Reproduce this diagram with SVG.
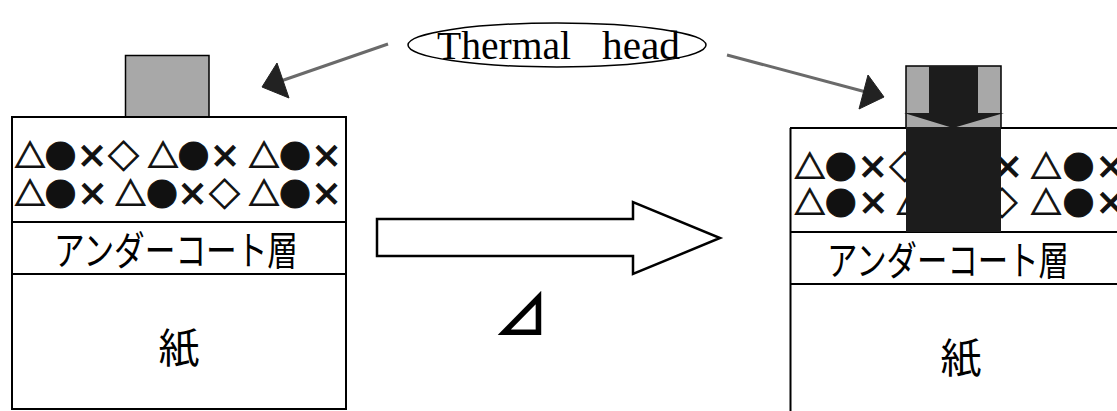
<svg xmlns="http://www.w3.org/2000/svg" width="1117" height="411" viewBox="0 0 1117 411">
<style>
.frame{fill:#fff;stroke:#000;stroke-width:2}
.line{stroke:#000;stroke-width:2;fill:none}
.sym{font-family:"Noto Sans CJK JP","DejaVu Sans",sans-serif;font-size:31px;font-weight:700;fill:#111;stroke:#111;stroke-width:1.1;text-anchor:middle;dominant-baseline:central}
.jp{font-family:"Noto Sans CJK JP",sans-serif;fill:#000;text-anchor:middle;dominant-baseline:central}
.head{fill:#a8a8a8;stroke:#000;stroke-width:1.5}
.ink{fill:#1c1c1c}
.lead{stroke:#6a6a6a;stroke-width:3;fill:none}
.tip{fill:#222;stroke:#222;stroke-width:1}
.serif{font-family:"Liberation Serif",serif;font-size:39px;fill:#000}
</style>
<rect width="1117" height="411" fill="#fff"/>

<g id="label-thermal-head">
<ellipse cx="557" cy="45" rx="149" ry="22" fill="#fff" stroke="#000" stroke-width="1.5"/>
<text class="serif" y="59"><tspan x="437" textLength="134" lengthAdjust="spacingAndGlyphs">Thermal</tspan><tspan x="602" textLength="78" lengthAdjust="spacingAndGlyphs">head</tspan></text>
</g>

<g id="connectors">
<line class="lead" x1="388" y1="44" x2="278" y2="82"/>
<polygon class="tip" points="262,87 277,63 289,98"/>
<line class="lead" x1="727" y1="55" x2="866" y2="92"/>
<polygon class="tip" points="884,97 868,75 859,109"/>
<polygon points="377,219 633,219 633,202 720,238 633,274 633,256 377,256" fill="#fff" stroke="#000" stroke-width="2.5" stroke-linejoin="miter"/>
</g>

<g id="mark">
<text x="521" y="311" class="jp" font-size="55" font-weight="700">⊿</text>
</g>

<g id="before">
<rect class="head" x="125.5" y="55.5" width="83.5" height="61.5"/>
<rect class="frame" x="12" y="117" width="334" height="292"/>
<line class="line" x1="12" y1="222" x2="346" y2="222"/>
<line class="line" x1="12" y1="274" x2="346" y2="274"/>
<text class="sym" y="153"><tspan x="30">△</tspan><tspan x="60.5">●</tspan><tspan x="92">×</tspan><tspan x="123.5">◇</tspan><tspan x="163">△</tspan><tspan x="193.5">●</tspan><tspan x="225">×</tspan><tspan x="264">△</tspan><tspan x="295">●</tspan><tspan x="326.5">×</tspan></text>
<text class="sym" y="191"><tspan x="30">△</tspan><tspan x="60.5">●</tspan><tspan x="92.5">×</tspan><tspan x="130.5">△</tspan><tspan x="162">●</tspan><tspan x="192.5">×</tspan><tspan x="224.5">◇</tspan><tspan x="264">△</tspan><tspan x="295">●</tspan><tspan x="326.5">×</tspan></text>
<text class="jp" x="176" y="248" font-size="40" textLength="244" lengthAdjust="spacingAndGlyphs">アンダーコート層</text>
<text class="jp" x="179" y="345" font-size="41">紙</text>
</g>

<g id="after">
<line class="line" x1="790.5" y1="128" x2="790.5" y2="411"/>
<line class="line" x1="790" y1="128" x2="1117" y2="128"/>
<line class="line" x1="790" y1="232" x2="1117" y2="232"/>
<line class="line" x1="790" y1="284" x2="1117" y2="284"/>
<text class="sym" y="163.5"><tspan x="809.8">△</tspan><tspan x="840.7">●</tspan><tspan x="872.7">×</tspan><tspan x="904.7">◇</tspan><tspan x="944.8">△</tspan><tspan x="975.7">●</tspan><tspan x="1007.7">×</tspan><tspan x="1046">△</tspan><tspan x="1078.5">●</tspan><tspan x="1110.7">×</tspan></text>
<text class="sym" y="200"><tspan x="809.8">△</tspan><tspan x="840.7">●</tspan><tspan x="873.2">×</tspan><tspan x="911.8">△</tspan><tspan x="943.8">●</tspan><tspan x="974.7">×</tspan><tspan x="1002">◇</tspan><tspan x="1046">△</tspan><tspan x="1078.5">●</tspan><tspan x="1110.7">×</tspan></text>
<rect class="head" x="906" y="66" width="95" height="62"/>
<polygon class="ink" points="929,66 978,66 978,113 1004,113 953,128 904,113 929,113"/>
<rect class="ink" x="906" y="127" width="95" height="105"/>
<text class="jp" x="948" y="258" font-size="40" textLength="242" lengthAdjust="spacingAndGlyphs">アンダーコート層</text>
<text class="jp" x="961" y="355" font-size="41">紙</text>
</g>
</svg>
